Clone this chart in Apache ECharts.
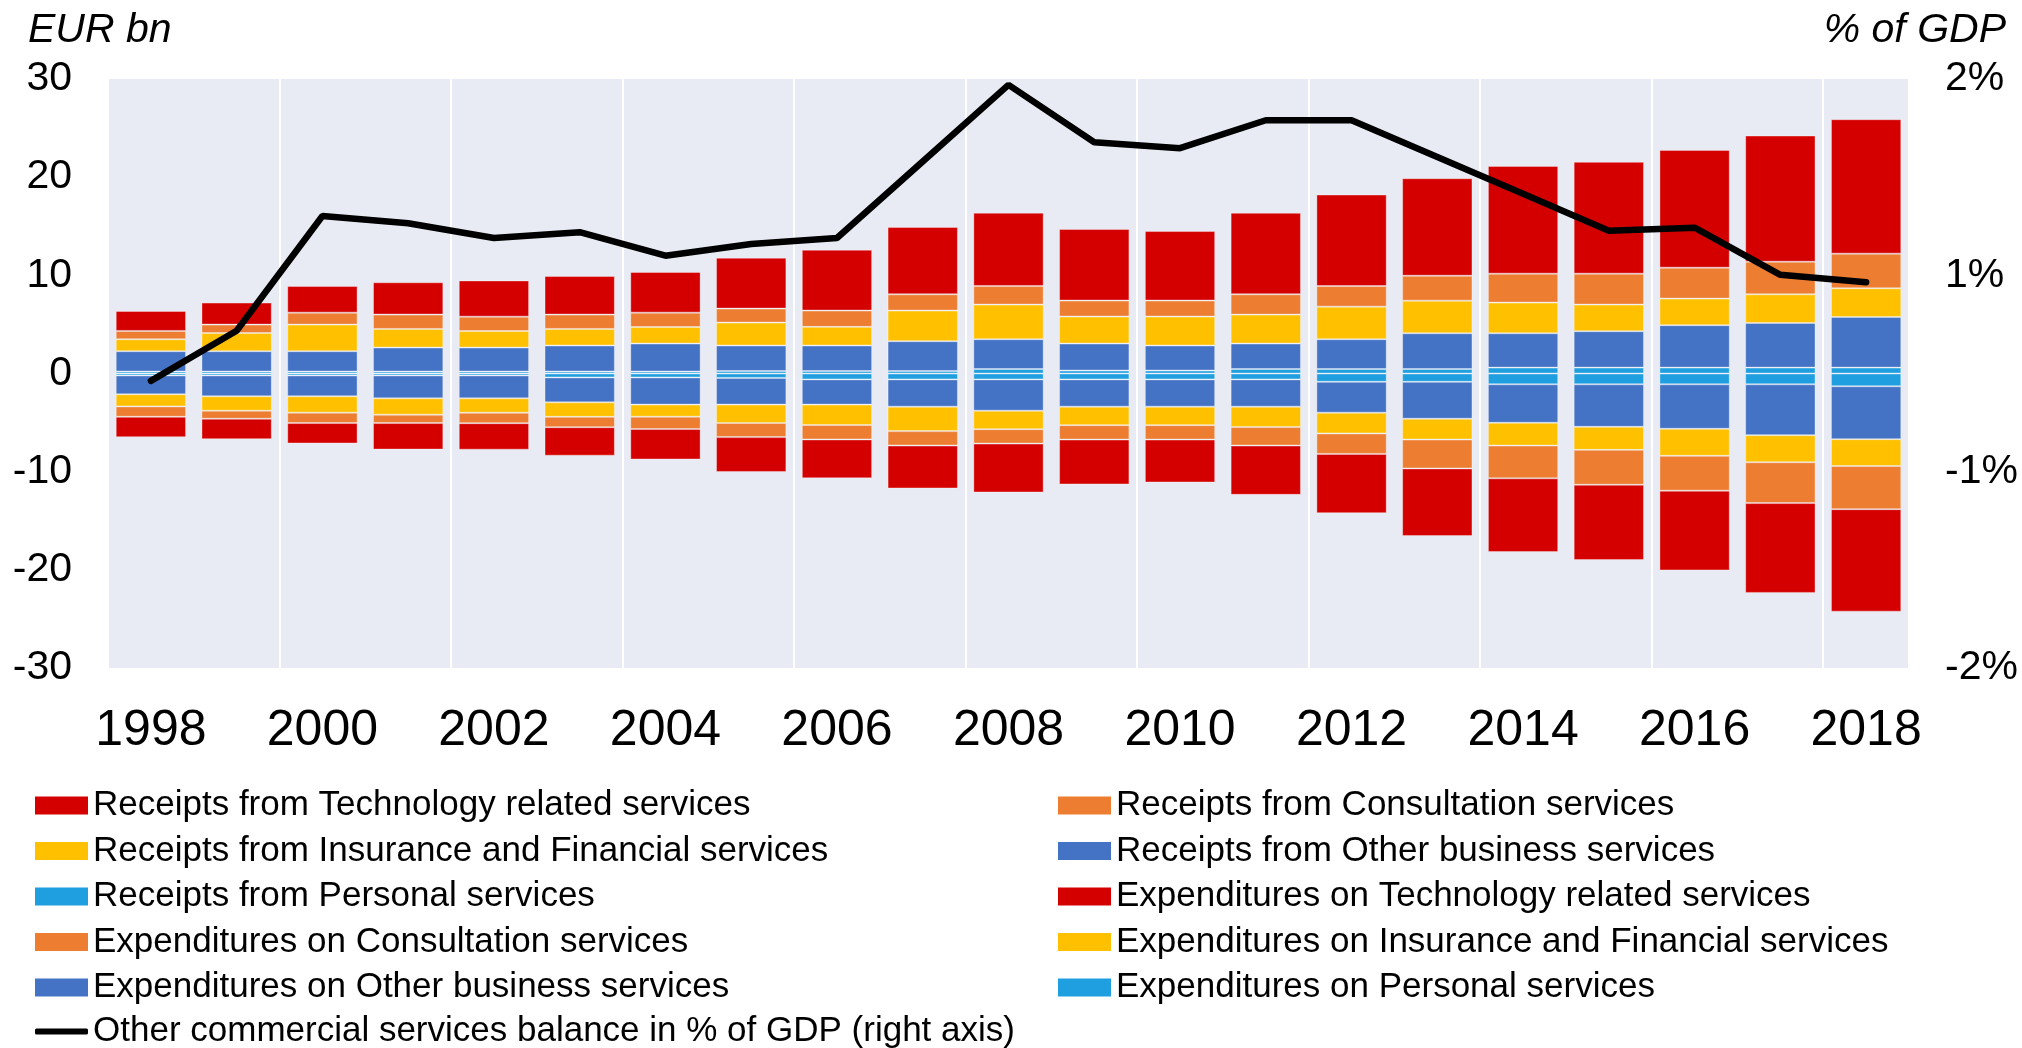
<!DOCTYPE html>
<html>
<head>
<meta charset="utf-8">
<script src="https://cdn.jsdelivr.net/npm/echarts@6/dist/echarts.min.js"></script>
<style>
html,body{margin:0;padding:0;background:#fff;}
#chart{width:2022px;height:1048px;}
</style>
</head>
<body>
<div id="chart"></div>
<script>
const years = ['1998','1999','2000','2001','2002','2003','2004','2005','2006','2007','2008','2009','2010','2011','2012','2013','2014','2015','2016','2017','2018'];

// Receipts (EUR bn)
const recTech  = [2.03,2.24,2.71,3.29,3.69,3.93,4.14,5.19,6.20,6.85,7.46,7.29,7.08,8.30,9.32,9.93,10.98,11.39,12.00,12.85,13.69];
const recCons  = [0.85,0.85,1.22,1.46,1.46,1.46,1.46,1.42,1.66,1.66,1.90,1.63,1.63,2.07,2.10,2.54,2.95,3.15,3.15,3.32,3.53];
const recIns   = [1.22,1.86,2.71,1.90,1.69,1.69,1.69,2.34,1.90,3.12,3.53,2.75,2.95,2.95,3.32,3.32,3.12,2.71,2.71,2.92,2.92];
const recOther = [2.07,2.07,2.07,2.44,2.44,2.65,2.85,2.60,2.60,3.04,3.04,2.75,2.55,2.60,3.04,3.65,3.50,3.71,4.32,4.55,5.16];
const recPers  = [0.20,0.20,0.20,0.20,0.20,0.20,0.20,0.25,0.25,0.25,0.45,0.30,0.30,0.45,0.45,0.45,0.60,0.60,0.60,0.60,0.60];

// Expenditures (EUR bn, negative)
const expTech  = [-2.08,-2.08,-2.08,-2.70,-2.70,-2.90,-3.10,-3.55,-3.96,-4.37,-4.98,-4.57,-4.37,-5.02,-6.04,-6.89,-7.51,-7.68,-8.12,-9.15,-10.44];
const expCons  = [-1.06,-0.82,-1.06,-0.85,-1.06,-1.06,-1.26,-1.43,-1.47,-1.47,-1.47,-1.47,-1.47,-1.88,-2.08,-2.94,-3.34,-3.55,-3.55,-4.16,-4.40];
const expIns   = [-1.23,-1.47,-1.67,-1.67,-1.47,-1.47,-1.23,-1.88,-2.08,-2.49,-1.88,-1.88,-1.88,-2.08,-2.12,-2.12,-2.32,-2.35,-2.76,-2.76,-2.73];
const expOther = [-1.92,-2.12,-2.12,-2.33,-2.33,-2.54,-2.77,-2.72,-2.57,-2.78,-3.19,-2.78,-2.78,-2.78,-3.14,-3.76,-3.92,-4.33,-4.53,-5.18,-5.39];
const expPers  = [-0.20,-0.20,-0.20,-0.20,-0.20,-0.40,-0.40,-0.45,-0.60,-0.60,-0.60,-0.60,-0.60,-0.60,-0.85,-0.85,-1.10,-1.10,-1.10,-1.10,-1.30];

// Balance, % of GDP (right axis)
const balance = [-0.05,0.29,1.07,1.02,0.92,0.96,0.80,0.88,0.92,1.44,1.96,1.57,1.53,1.72,1.72,1.47,1.22,0.97,0.99,0.67,0.62];

const rightTickValues = [-2, -2/3, 2/3, 2];

const C_RED = '#D40000', C_ORANGE = '#ED7D31', C_YELLOW = '#FFC000', C_BLUE = '#4472C4', C_LBLUE = '#1F9FE0';

const N = {
  rTech:'Receipts from Technology related services',
  rCons:'Receipts from Consultation services',
  rIns:'Receipts from Insurance and Financial services',
  rOther:'Receipts from Other business services',
  rPers:'Receipts from Personal services',
  eTech:'Expenditures on Technology related services',
  eCons:'Expenditures on Consultation services',
  eIns:'Expenditures on Insurance and Financial services',
  eOther:'Expenditures on Other business services',
  ePers:'Expenditures on Personal services',
  line:'Other commercial services balance in % of GDP (right axis)'
};

function bar(name, data, color){
  return {
    name, type:'bar', stack:'all', data, barCategoryGap:'18%',
    itemStyle:{color, borderColor:'rgba(255,255,255,0.35)', borderWidth:1},
    emphasis:{disabled:true}
  };
}

const FONT = 'Liberation Sans, Arial, sans-serif';
const legendCommon = {
  orient:'vertical', itemWidth:53, itemHeight:18, itemGap:10.5, padding:0,
  selectedMode:false, height:255,
  textStyle:{fontFamily:FONT, fontSize:35, color:'#000', lineHeight:35},
  itemStyle:{borderWidth:0}
};
const rectIcon = n => ({name:n, icon:'rect'});

const chart = echarts.init(document.getElementById('chart'), null, {renderer:'canvas'});
chart.setOption({
  animation:false,
  backgroundColor:'#ffffff',
  textStyle:{fontFamily:FONT},
  grid:{left:108, right:113, top:79, bottom:380, show:true, backgroundColor:'#E8EBF3', borderWidth:0, containLabel:false},
  graphic:[
    {type:'text', left:28, top:10, style:{text:'EUR bn', font:'italic 41px ' + FONT, fill:'#000'}},
    {type:'text', right:16, top:10, style:{text:'% of GDP', font:'italic 41px ' + FONT, fill:'#000'}}
  ],
  legend:[
    Object.assign({}, legendCommon, {left:35, top:788,
      data:[rectIcon(N.rTech), rectIcon(N.rIns), rectIcon(N.rPers), rectIcon(N.eCons), rectIcon(N.eOther)]}),
    Object.assign({}, legendCommon, {left:1058, top:788,
      data:[rectIcon(N.rCons), rectIcon(N.rOther), rectIcon(N.eTech), rectIcon(N.eIns), rectIcon(N.ePers)]}),
    Object.assign({}, legendCommon, {left:35, top:1014, height:34, itemHeight:6,
      data:[{name:N.line, icon:'roundRect', itemStyle:{color:'#000'}}]})
  ],
  xAxis:{
    type:'category', data:years, boundaryGap:true,
    axisLine:{show:false}, axisTick:{show:false},
    axisLabel:{interval:1, fontSize:50, color:'#000', margin:38, fontFamily:FONT},
    splitLine:{show:true, interval:1, lineStyle:{color:'#ffffff', width:2}}
  },
  yAxis:[
    {type:'value', min:-30, max:30, interval:10,
     axisLine:{show:false}, axisTick:{show:false}, splitLine:{show:false},
     axisLabel:{fontSize:41, color:'#000', margin:36, fontFamily:FONT}},
    {type:'value', min:-2, max:2, position:'right',
     axisLine:{show:false}, axisTick:{show:false}, splitLine:{show:false},
     axisLabel:{fontSize:41, color:'#000', margin:36, fontFamily:FONT,
       customValues:rightTickValues,
       formatter:v => Math.round(v) + '%'}}
  ],
  series:[
    bar(N.rPers, recPers, C_LBLUE),
    bar(N.rOther, recOther, C_BLUE),
    bar(N.rIns, recIns, C_YELLOW),
    bar(N.rCons, recCons, C_ORANGE),
    bar(N.rTech, recTech, C_RED),
    bar(N.ePers, expPers, C_LBLUE),
    bar(N.eOther, expOther, C_BLUE),
    bar(N.eIns, expIns, C_YELLOW),
    bar(N.eCons, expCons, C_ORANGE),
    bar(N.eTech, expTech, C_RED),
    {name:N.line, type:'line', yAxisIndex:1, data:balance, symbol:'none', z:10,
     lineStyle:{color:'#000', width:6.5, cap:'round'}, itemStyle:{color:'#000'},
     emphasis:{disabled:true}}
  ]
});
</script>
</body>
</html>
